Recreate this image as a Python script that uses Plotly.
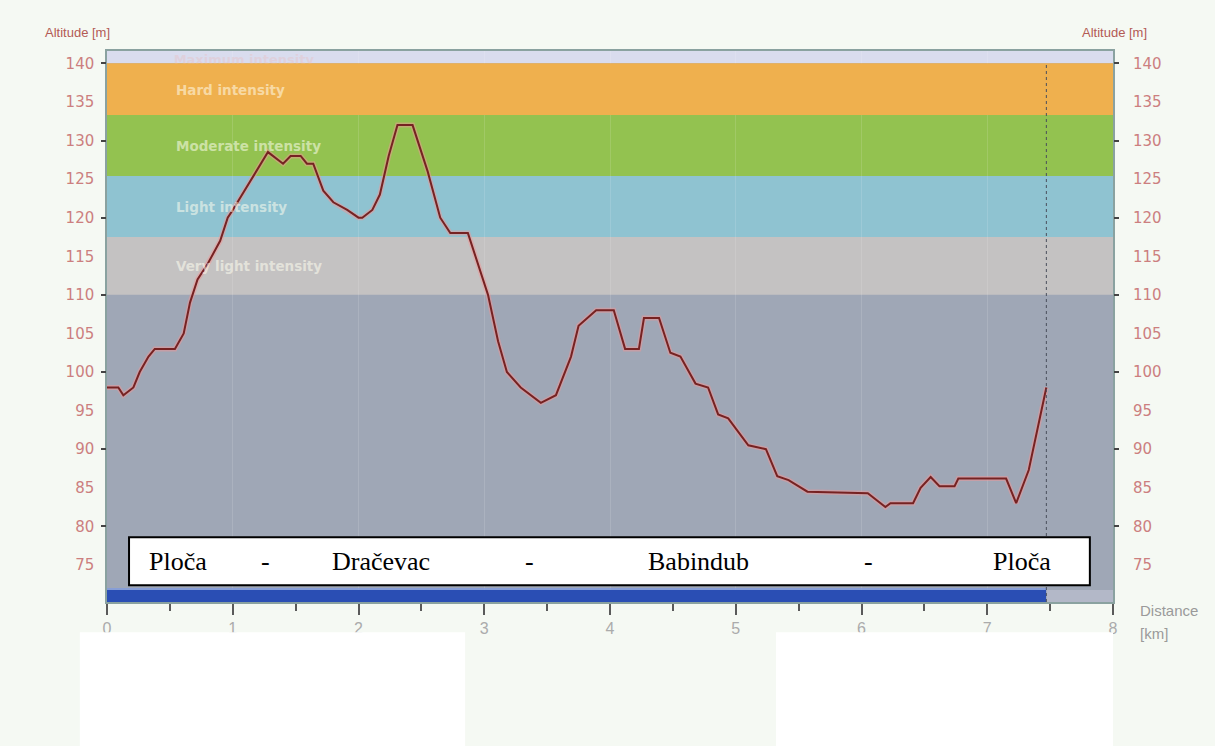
import plotly.graph_objects as go

# ---- data ----
dist_km = [0.00, 0.09, 0.13, 0.21, 0.26, 0.33, 0.38, 0.54, 0.61, 0.66,
           0.72, 0.80, 0.90, 0.96, 1.00, 1.11, 1.19, 1.28, 1.40, 1.46,
           1.54, 1.59, 1.64, 1.72, 1.80, 1.91, 2.00, 2.03, 2.11, 2.17,
           2.24, 2.31, 2.43, 2.55, 2.65, 2.73, 2.87, 2.91, 3.03, 3.11,
           3.18, 3.29, 3.45, 3.57, 3.62, 3.69, 3.75, 3.89, 4.03, 4.12,
           4.23, 4.27, 4.39, 4.48, 4.56, 4.68, 4.78, 4.86, 4.94, 5.10,
           5.24, 5.33, 5.42, 5.57, 6.05, 6.19, 6.23, 6.41, 6.47, 6.55,
           6.62, 6.74, 6.77, 7.15, 7.23, 7.33, 7.47]
alt_m = [98, 98, 97, 98, 100, 102, 103, 103, 105, 109,
         112, 114, 117, 120, 121, 124, 126, 128.5, 127, 128,
         128, 127, 127, 123.5, 122, 121, 120, 120, 121, 123,
         128, 132, 132, 126, 120, 118, 118, 116, 110, 104,
         100, 98, 96, 97, 99, 102, 106, 108, 108, 103,
         103, 107, 107, 102.5, 102, 98.5, 98, 94.5, 94, 90.5,
         90, 86.5, 86, 84.5, 84.3, 82.5, 83, 83, 85, 86.4,
         85.2, 85.2, 86.2, 86.2, 83, 87.3, 98]

band_names = ["Very light intensity", "Light intensity", "Moderate intensity",
              "Hard intensity", "Maximum intensity"]
band_low = [110, 117.5, 125.4, 133.3, 140]
band_high = [117.5, 125.4, 133.3, 140, 141.6]
band_colors = ["#c4c2c2", "#8fc3d1", "#93c250", "#efb04e", "#d9dcee"]
base_color = "#9fa7b6"

route_words = ["Ploča", "-", "Dračevac", "-", "Babindub", "-", "Ploča"]

y_label_vals = list(range(75, 141, 5))
y_tick_vals = list(range(80, 141, 10))
x_tick_vals = list(range(0, 9))

Y_RANGE = [70.2, 141.6]
X_RANGE = [0, 8]
PAGE_BG = "#f5f9f3"

# ---- figure ----
fig = go.Figure()

# faint "Maximum intensity" label (mostly hidden by the orange band)
fig.add_trace(go.Scatter(x=[0.53], y=[140.3], mode="text", text=["<b>" + band_names[4] + "</b>"],
                         textposition="middle right", cliponaxis=True,
                         textfont=dict(family="DejaVu Sans", size=13, color="rgba(225,205,215,0.75)"),
                         hoverinfo="skip", showlegend=False))

# elevation line with soft halo
fig.add_trace(go.Scatter(x=dist_km, y=alt_m, mode="lines",
                         line=dict(color="rgba(240,150,150,0.5)", width=5),
                         hoverinfo="skip", showlegend=False))
fig.add_trace(go.Scatter(x=dist_km, y=alt_m, mode="lines",
                         line=dict(color="#762222", width=2),
                         showlegend=False))

# dummy traces for overlay tick axes
for ax in ["y2", "y3", "y4"]:
    fig.add_trace(go.Scatter(x=dist_km[:1], y=alt_m[:1], yaxis=ax, mode="markers",
                             marker=dict(opacity=0), hoverinfo="skip", showlegend=False))

shapes = []
shapes.append(dict(type="rect", xref="paper", yref="y", x0=0, x1=1, y0=Y_RANGE[0], y1=band_low[0],
                   fillcolor=base_color, line=dict(width=0), layer="below"))
for i, (lo, hi, col) in enumerate(zip(band_low, band_high, band_colors)):
    shapes.append(dict(type="rect", xref="paper", yref="y", x0=0, x1=1, y0=lo, y1=hi,
                       fillcolor=col, line=dict(width=0),
                       layer="above" if i == 3 else "below"))

# route progress bar along the bottom
shapes.append(dict(type="rect", xref="x", yref="paper", x0=dist_km[0], x1=dist_km[-1], y0=0, y1=0.022,
                   fillcolor="#2a4eb4", line=dict(width=0), layer="above"))
shapes.append(dict(type="rect", xref="x", yref="paper", x0=dist_km[-1], x1=X_RANGE[1], y0=0, y1=0.022,
                   fillcolor="#b3b8c8", line=dict(width=0), layer="above"))
shapes.append(dict(type="line", xref="x", yref="paper", x0=dist_km[0], x1=dist_km[-1], y0=0.0235, y1=0.0235,
                   line=dict(color="#7f9be0", width=1.5), layer="above"))

# end-of-route dotted marker
shapes.append(dict(type="line", xref="x", yref="y", x0=dist_km[-1], x1=dist_km[-1],
                   y0=Y_RANGE[0], y1=band_low[4],
                   line=dict(color="#4a4f5c", width=1, dash="dot"), layer="above"))

# route name box
shapes.append(dict(type="rect", xref="paper", yref="paper", x0=0.0219, x1=0.977, y0=0.0305, y1=0.1175,
                   fillcolor="white", line=dict(color="black", width=2), layer="above"))

# white blocks under the chart
shapes.append(dict(type="rect", xref="paper", yref="paper", x0=-0.027, x1=0.356, y0=-0.265, y1=-0.055,
                   fillcolor="white", line=dict(width=0), layer="above"))
shapes.append(dict(type="rect", xref="paper", yref="paper", x0=0.665, x1=1.0, y0=-0.265, y1=-0.055,
                   fillcolor="white", line=dict(width=0), layer="above"))

annotations = []
band_label_y = [113.7, 121.4, 129.3, 136.6]
for name, yy in zip(band_names[:4], band_label_y):
    annotations.append(dict(x=0.53, y=yy, xref="x", yref="y", text="<b>" + name + "</b>", showarrow=False,
                            xanchor="left", yanchor="middle",
                            font=dict(family="DejaVu Sans", size=13.5, color="rgba(255,255,240,0.55)")))

route_pos = [0.0706, 0.158, 0.2726, 0.420, 0.588, 0.757, 0.910]
for w, px in zip(route_words, route_pos):
    annotations.append(dict(x=px, y=0.074, xref="paper", yref="paper", text=w, showarrow=False,
                            xanchor="center", yanchor="middle",
                            font=dict(family="Liberation Serif", size=26, color="black")))

annotations += [
    dict(x=-0.0298, y=1.034, xref="paper", yref="paper", text="Altitude [m]", showarrow=False,
         xanchor="center", yanchor="middle",
         font=dict(family="Liberation Sans", size=13, color="#b35a55")),
    dict(x=1.001, y=1.034, xref="paper", yref="paper", text="Altitude [m]", showarrow=False,
         xanchor="center", yanchor="middle",
         font=dict(family="Liberation Sans", size=13, color="#b35a55")),
    dict(x=1.025, y=-0.015, xref="paper", yref="paper", text="Distance", showarrow=False,
         xanchor="left", yanchor="middle",
         font=dict(family="Liberation Sans", size=15, color="#9a9a9a")),
    dict(x=1.025, y=-0.057, xref="paper", yref="paper", text="[km]", showarrow=False,
         xanchor="left", yanchor="middle",
         font=dict(family="Liberation Sans", size=15, color="#9a9a9a")),
]

tick_font = dict(family="DejaVu Sans", size=15, color="#cc7f7f")

fig.update_layout(
    width=1215, height=746,
    margin=dict(l=107, r=102, t=51, b=144),
    paper_bgcolor=PAGE_BG,
    plot_bgcolor=base_color,
    shapes=shapes,
    annotations=annotations,
    showlegend=False,
    xaxis=dict(range=X_RANGE, tickvals=x_tick_vals, ticks="outside", ticklen=11, tickwidth=2,
               tickcolor="#5a5a5a", tickfont=dict(family="Liberation Sans", size=16, color="#ababab"),
               showgrid=True, gridcolor="rgba(255,255,255,0.13)", gridwidth=1, zeroline=False,
               showline=True, linecolor="#8aa2a0", linewidth=1.5, mirror=True,
               minor=dict(dtick=0.5, ticks="outside", ticklen=7, tickwidth=1.5, tickcolor="#5a5a5a",
                          showgrid=False)),
    yaxis=dict(range=Y_RANGE, tickvals=y_label_vals, ticks="outside", ticklen=8,
               tickcolor="rgba(0,0,0,0)", tickfont=tick_font, showgrid=False, zeroline=False,
               showline=True, linecolor="#8aa2a0", linewidth=1.5, mirror=True),
    yaxis2=dict(range=Y_RANGE, overlaying="y", side="left", tickvals=y_tick_vals, ticks="outside",
                ticklen=5, tickwidth=1.5, tickcolor="#444", showticklabels=False, showgrid=False,
                zeroline=False),
    yaxis3=dict(range=Y_RANGE, overlaying="y", side="right", tickvals=y_label_vals, ticks="outside",
                ticklen=16, tickcolor="rgba(0,0,0,0)", tickfont=tick_font, showgrid=False,
                zeroline=False),
    yaxis4=dict(range=Y_RANGE, overlaying="y", side="right", tickvals=y_tick_vals, ticks="outside",
                ticklen=5, tickwidth=1.5, tickcolor="#444", showticklabels=False, showgrid=False,
                zeroline=False),
)

fig.write_html("out.html", config={"displayModeBar": False},
               post_script="document.body.style.margin='0';document.body.style.background='%s';" % PAGE_BG)
